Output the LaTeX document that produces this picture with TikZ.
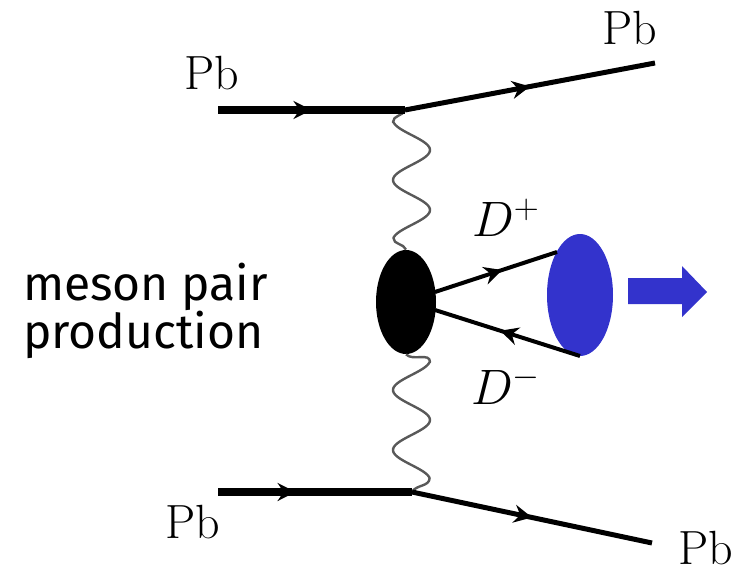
\documentclass[tikz,border=0pt]{standalone}
\usepackage{fontspec}
\newfontfamily\comic{Fira Sans}
\usetikzlibrary{arrows.meta,decorations.markings,shapes.geometric}
\definecolor{mesonblue}{HTML}{3333CC}
\begin{document}
\begin{tikzpicture}[x=0.5pt,y=-0.5pt,
  midarrow/.style={postaction={decorate},decoration={markings,
    mark=at position #1 with {\arrow{Stealth[length=9pt,width=9pt,inset=3pt]}}}},
  beam/.style={line width=4pt},
  outline/.style={line width=2.5pt},
  dline/.style={line width=2pt},
  photon/.style={draw=black!65,line width=1.2pt,line join=round},
  pblabel/.style={font=\fontsize{24}{28}\selectfont,inner sep=0pt},
  dlabel/.style={font=\fontsize{25}{30}\selectfont,inner sep=0pt},
]
\useasboundingbox (0,0) rectangle (751,573);
% vertices
\coordinate (a1) at (218,110);
\coordinate (v1) at (405,110);
\coordinate (b1) at (655,63);
\coordinate (a2) at (218,492);
\coordinate (v2) at (412,492);
\coordinate (b2) at (652,543);
% blobs
\node[ellipse,fill=black,minimum width=30pt,minimum height=52pt,inner sep=0pt] (blob) at (406,302) {};
\node[ellipse,fill=mesonblue,minimum width=33pt,minimum height=61pt,inner sep=0pt] (meson) at (580,295) {};
% photons
\draw[photon] (v1) to[out=-110,in=90] (393,122)
  -- plot[domain=122:238,samples=80] ({411.5-18.5*cos(6*(\x-120))},\x)
  to[out=-90,in=110] (blob.north);
\draw[photon] (blob.south) to[out=-45,in=90] (430,362)
  -- plot[domain=362:478,samples=80] ({411.5+18.5*cos(6*(\x-360))},\x)
  to[out=-90,in=60] (v2);
% beams
\draw[beam,midarrow=0.5] (a1) -- (v1);
\draw[outline,midarrow=0.5] (v1) -- (b1);
\draw[beam,midarrow=0.4] (a2) -- (v2);
\draw[outline,midarrow=0.5] (v2) -- (b2);
% D lines
\coordinate (bp) at (435,292);
\coordinate (bm) at (435,310);
\coordinate (dp) at (557,252);
\coordinate (dm) at (580,356);
\draw[dline,midarrow=0.55] (bp) -- (dp);
\draw[dline,midarrow=0.55] (dm) -- (bm);
% blue arrow
\fill[mesonblue] (628,278) -- (682,278) -- (682,266) -- (707,292) -- (682,317) -- (682,304) -- (628,304) -- cycle;
% labels
\node[pblabel] (pb1) at (212,73) {Pb};
\node[pblabel] (pb2) at (630,28) {Pb};
\node[pblabel] (pb3) at (193,522) {Pb};
\node[pblabel] (pb4) at (706,548) {Pb};
\node[dlabel] (dplus) at (506,218) {$D^{+}$};
\node[dlabel] (dminus) at (506,385) {$D^{-}$};
\node[font=\comic\fontsize{24}{24}\selectfont,align=left,anchor=west] (txt) at (16,311) {meson pair\\production};
\end{tikzpicture}
\end{document}
